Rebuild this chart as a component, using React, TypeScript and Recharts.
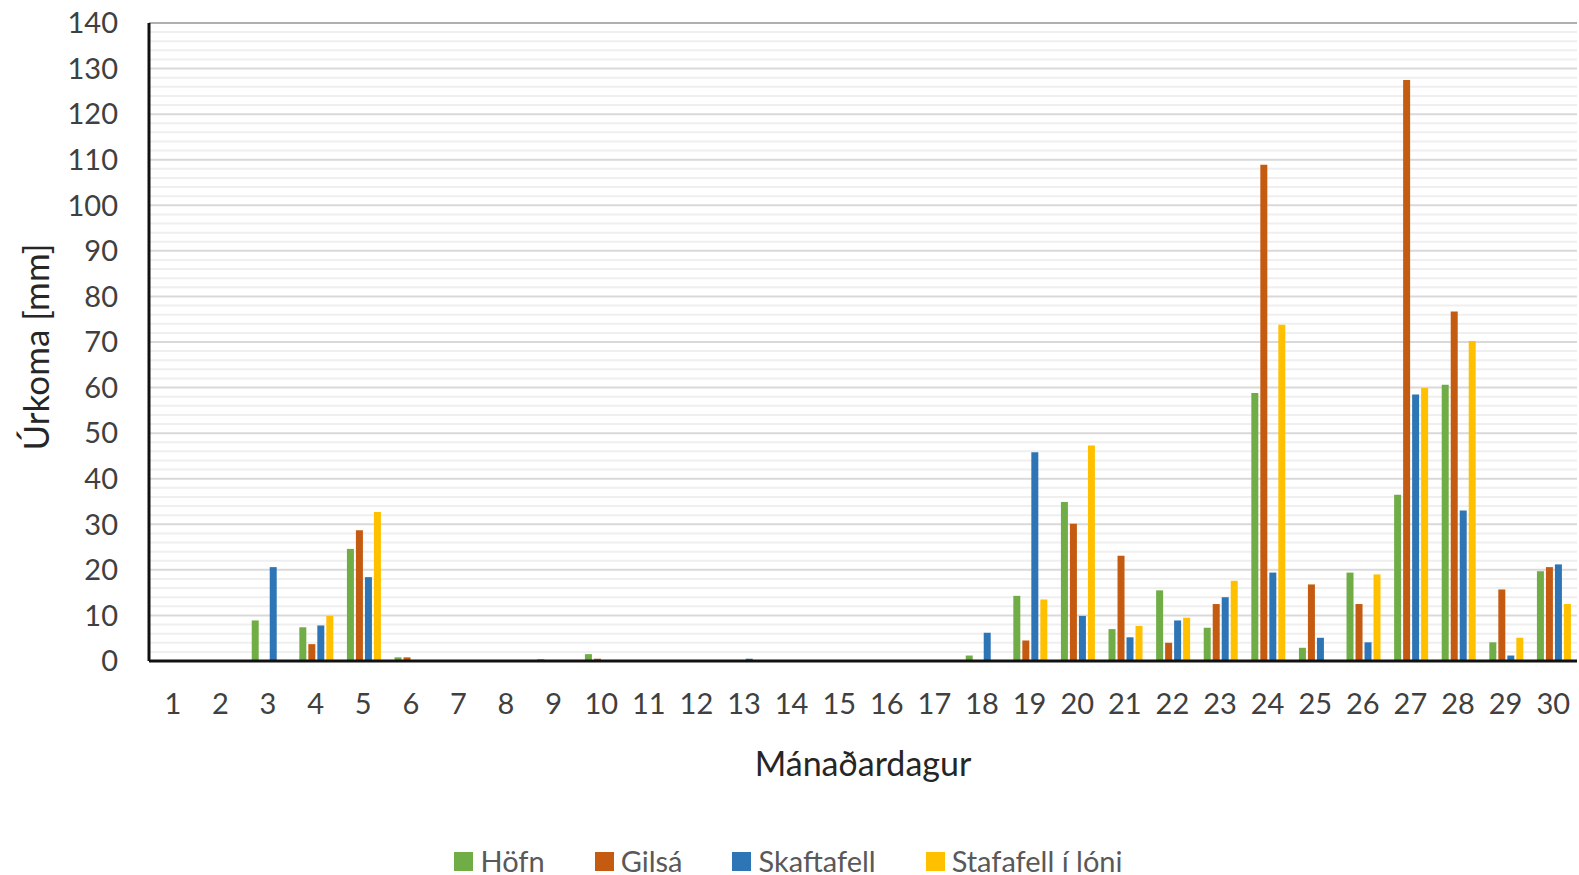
import { BarChart, Bar, XAxis, YAxis, CartesianGrid, Legend } from 'recharts';

const days = ['1', '2', '3', '4', '5', '6', '7', '8', '9', '10', '11', '12', '13', '14', '15', '16', '17', '18', '19', '20', '21', '22', '23', '24', '25', '26', '27', '28', '29', '30'];

const hofn = [0, 0, 8.9, 7.4, 24.6, 0.8, 0, 0, 0.4, 1.5, 0, 0, 0, 0, 0, 0, 0, 1.2, 14.3, 34.9, 7.0, 15.5, 7.3, 58.8, 2.9, 19.4, 36.5, 60.6, 4.1, 19.7];
const gilsa = [0, 0, 0, 3.7, 28.7, 0.8, 0, 0, 0, 0.5, 0, 0, 0, 0, 0, 0, 0, 0, 4.5, 30.1, 23.1, 4.0, 12.5, 108.9, 16.8, 12.5, 127.5, 76.7, 15.7, 20.6];
const skaftafell = [0, 0, 20.6, 7.8, 18.4, 0, 0, 0, 0, 0, 0, 0, 0.5, 0, 0, 0, 0, 6.2, 45.8, 9.9, 5.2, 8.9, 14.0, 19.4, 5.1, 4.1, 58.5, 33.0, 1.2, 21.2];
const stafafell = [0, 0, 0, 9.9, 32.7, 0, 0, 0, 0, 0, 0, 0, 0, 0, 0, 0, 0, 0, 13.5, 47.3, 7.7, 9.5, 17.6, 73.8, 0, 19.0, 59.9, 70.2, 5.1, 12.5];

const yTicks = [0, 10, 20, 30, 40, 50, 60, 70, 80, 90, 100, 110, 120, 130, 140];
const minorTicks = Array.from({ length: 71 }, (_, i) => i * 2).filter((v) => v % 10 !== 0);

const SERIES = [
    { key: 'hofn', name: 'Höfn', color: '#70AD47' },
    { key: 'gilsa', name: 'Gilsá', color: '#C55A11' },
    { key: 'skaftafell', name: 'Skaftafell', color: '#2E75B6' },
    { key: 'stafafell', name: 'Stafafell í lóni', color: '#FFC000' },
];

const data = days.map((day, i) => ({
    day,
    hofn: hofn[i],
    gilsa: gilsa[i],
    skaftafell: skaftafell[i],
    stafafell: stafafell[i],
}));

const FONT = 'Lato, "Open Sans", sans-serif';
const TEXT = '#404040';

function renderLegend() {
    return (
        <div style={{ display: 'flex', justifyContent: 'center', alignItems: 'center', gap: 50, fontFamily: FONT, fontSize: 29, lineHeight: '36px', color: '#595959', transform: 'translateY(4px)' }}>
            {SERIES.map((s) => (
                <div key={s.key} style={{ display: 'flex', alignItems: 'center' }}>
                    <div style={{ width: 19, height: 19, backgroundColor: s.color, marginRight: 7 }} />
                    <span>{s.name}</span>
                </div>
            ))}
        </div>
    );
}

export default function App() {
    return (
        <div style={{ position: 'absolute', left: 0, top: 0, background: '#fff' }}>
            <BarChart
                width={1579}
                height={875}
                data={data}
                margin={{ top: 23, right: 2, left: 0, bottom: 0 }}
                barCategoryGap="15.8%"
                barGap={2}
            >
                <CartesianGrid horizontalValues={minorTicks} vertical={false} stroke="#efefef" strokeWidth={2} />
                <CartesianGrid horizontalValues={yTicks.slice(1, -1)} vertical={false} stroke="#d9d9d9" strokeWidth={2} />
                <CartesianGrid horizontalValues={[140]} vertical={false} stroke="#b0b0b0" strokeWidth={2} />
                <XAxis
                    dataKey="day"
                    interval={0}
                    tickLine={false}
                    tickSize={0}
                    tickMargin={32}
                    height={178}
                    axisLine={{ stroke: '#111', strokeWidth: 3 }}
                    tick={{ fill: TEXT, fontSize: 29, fontFamily: FONT }}
                    label={({ viewBox }: any) => (
                        <text
                            x={viewBox.x + viewBox.width / 2}
                            y={762}
                            textAnchor="middle"
                            dominantBaseline="central"
                            fill="#262626"
                            fontSize={34}
                            fontFamily={FONT}
                        >
                            Mánaðardagur
                        </text>
                    )}
                />
                <YAxis
                    domain={[0, 140]}
                    ticks={yTicks}
                    interval={0}
                    width={149}
                    tickLine={false}
                    tickSize={0}
                    tickMargin={31}
                    axisLine={{ stroke: '#111', strokeWidth: 3 }}
                    tick={{ fill: TEXT, fontSize: 29, fontFamily: FONT }}
                    label={({ viewBox }: any) => {
                        const cx = 35;
                        const cy = viewBox.y + viewBox.height / 2 + 5;
                        return (
                            <text
                                x={cx}
                                y={cy}
                                transform={`rotate(-90, ${cx}, ${cy})`}
                                textAnchor="middle"
                                dominantBaseline="central"
                                fill="#262626"
                                fontSize={35}
                                fontFamily={FONT}
                            >
                                Úrkoma [mm]
                            </text>
                        );
                    }}
                />
                <YAxis
                    yAxisId="right"
                    orientation="right"
                    domain={[0, 140]}
                    width={0}
                    tick={false}
                    tickLine={false}
                    axisLine={{ stroke: '#b0b0b0', strokeWidth: 2 }}
                />
                <Legend verticalAlign="bottom" height={36} content={renderLegend} />
                {SERIES.map((s) => (
                    <Bar key={s.key} dataKey={s.key} name={s.name} fill={s.color} isAnimationActive={false} />
                ))}
            </BarChart>
        </div>
    );
}
